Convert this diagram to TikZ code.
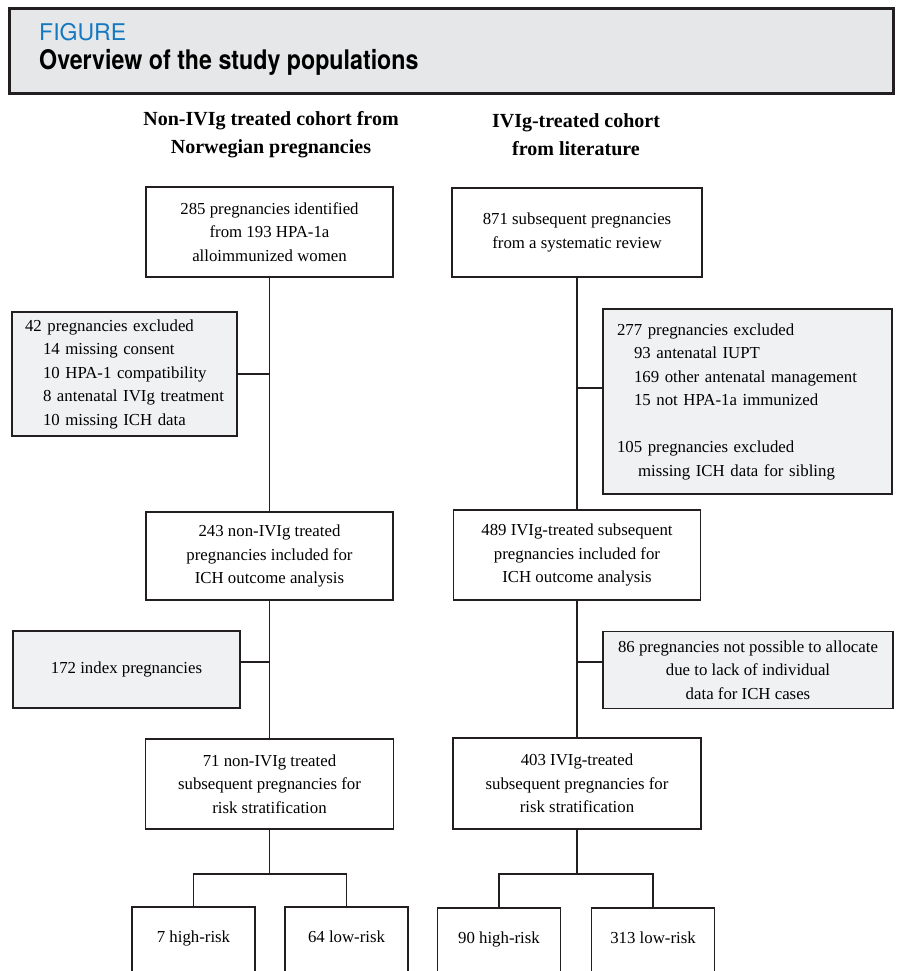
\documentclass[tikz,border=0pt]{standalone}
\usepackage{fontspec}
\setmainfont{Liberation Serif}
\newfontfamily\herosfont{TeX Gyre Heros}
\newfontfamily\herosnarrow[FakeStretch=0.86]{TeX Gyre Heros}
\definecolor{linec}{HTML}{231F20}
\definecolor{headfill}{HTML}{E6E7E8}
\definecolor{exfill}{HTML}{F0F1F3}
\definecolor{figblue}{HTML}{1479C0}
\tikzset{
  flowbox/.style={draw=linec, line width=1.5pt, fill=white, inner sep=0pt, align=center,
    font=\fontsize{16.8}{23.5}\selectfont},
  exbox/.style={flowbox, fill=exfill},
  riskbox/.style={draw=linec, line width=1.5pt, fill=white, inner sep=0pt,
    minimum width=123pt, text height=36pt, text depth=50pt, anchor=north,
    font=\fontsize{16.8}{23.5}\selectfont},
  conn/.style={draw=linec, line width=1.5pt},
  colhead/.style={inner sep=0pt, align=center, font=\fontsize{20}{28}\selectfont\bfseries}
}
\begin{document}
\begin{tikzpicture}[x=1pt,y=-1pt]
\useasboundingbox (0,0) rectangle (899,971);
\clip (0,0) rectangle (899,971);
\fill[white] (0,0) rectangle (899,971);
% header
\draw[line width=3pt, draw=linec, fill=headfill] (9.5,8.5) rectangle (893,93.5);
\node[anchor=base west, inner sep=0pt, text=figblue, font=\herosfont\fontsize{23}{26}\selectfont] (figlab) at (39,41) {FIGURE};
\node[anchor=base west, inner sep=0pt, font=\herosnarrow\bfseries\fontsize{27}{30}\selectfont] (figtitle) at (39,70) {Overview of the study populations};
% column headers
\node[colhead] (chL) at (271,135) {Non-IVIg treated cohort from\\Norwegian pregnancies};
\node[colhead] (chR) at (576,135) {IVIg-treated cohort\\from literature};
% left column
\node[flowbox, minimum width=247pt, minimum height=90pt] (b1L) at (269.5,232) {285 pregnancies identified\\from 193 HPA-1a\\alloimmunized women};
\node[exbox, minimum width=225pt, minimum height=124pt, text width=199pt, align=left] (exL) at (124.5,374)
  {42 pregnancies excluded\\
   \hspace*{18pt}14 missing consent\\
   \hspace*{18pt}10 HPA-1 compatibility\\
   \hspace*{18pt}8 antenatal IVIg treatment\\
   \hspace*{18pt}10 missing ICH data};
\node[flowbox, minimum width=247pt, minimum height=88pt] (b2L) at (269.5,556) {243 non-IVIg treated\\pregnancies included for\\ICH outcome analysis};
\node[exbox, minimum width=227pt, minimum height=77pt] (ex2L) at (126.5,669.5) {172 index pregnancies};
\node[flowbox, minimum width=248pt, minimum height=90pt] (b3L) at (269.5,784) {71 non-IVIg treated\\subsequent pregnancies for\\risk stratification};
\node[riskbox] (h1) at (193.5,906) {7 high-risk};
\node[riskbox] (l1) at (346.5,906) {64 low-risk};
% right column
\node[flowbox, minimum width=250pt, minimum height=89pt] (b1R) at (577,232.5) {871 subsequent pregnancies\\from a systematic review};
\node[exbox, minimum width=289pt, minimum height=185pt, text width=261pt, align=left] (exR) at (747.5,401.5)
  {277 pregnancies excluded\\
   \hspace*{17pt}93 antenatal IUPT\\
   \hspace*{17pt}169 other antenatal management\\
   \hspace*{17pt}15 not HPA-1a immunized\\[23.5pt]
   105 pregnancies excluded\\
   \hspace*{21pt}missing ICH data for sibling};
\node[flowbox, minimum width=247pt, minimum height=90pt] (b2R) at (577,555) {489 IVIg-treated subsequent\\pregnancies included for\\ICH outcome analysis};
\node[exbox, minimum width=290pt, minimum height=77pt] (ex2R) at (748,670) {86 pregnancies not possible to allocate\\due to lack of individual\\data for ICH cases};
\node[flowbox, minimum width=248pt, minimum height=91pt] (b3R) at (577,783.5) {403 IVIg-treated\\subsequent pregnancies for\\risk stratification};
\node[riskbox] (h2) at (499,907) {90 high-risk};
\node[riskbox] (l2) at (653,907) {313 low-risk};
% junction points
\coordinate (jL) at (269.5,874);
\coordinate (jR) at (577,874);
% connectors left
\draw[conn] (b1L.south) -- (b2L.north);
\draw[conn] (exL.east) -- (exL.east -| b1L.south);
\draw[conn] (b2L.south) -- (b3L.north);
\draw[conn] ([yshift=7.5pt]ex2L.east) -- ([yshift=7.5pt]ex2L.east -| b2L.south);
\draw[conn] (b3L.south) -- (jL);
\draw[conn] (h1.north) |- (jL) -| (l1.north);
% connectors right
\draw[conn] (b1R.south) -- (b2R.north);
\draw[conn] ([yshift=13.5pt]exR.west) -- ([yshift=13.5pt]exR.west -| b1R.south);
\draw[conn] (b2R.south) -- (b3R.north);
\draw[conn] ([yshift=8pt]ex2R.west) -- ([yshift=8pt]ex2R.west -| b2R.south);
\draw[conn] (b3R.south) -- (jR);
\draw[conn] (h2.north) |- (jR) -| (l2.north);
\end{tikzpicture}
\end{document}
